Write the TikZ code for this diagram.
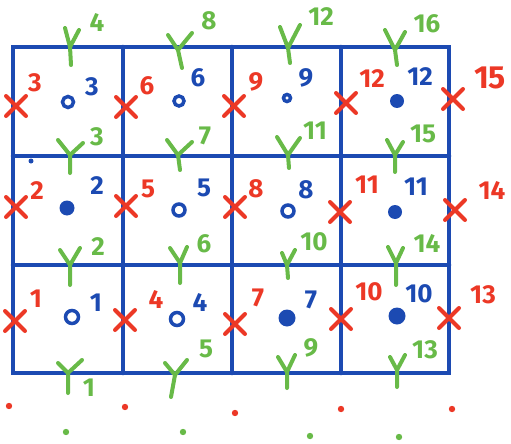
\documentclass[tikz,border=0pt]{standalone}
\usepackage{fontspec}
\setmainfont{Fira Sans}
\definecolor{gridblue}{RGB}{28,74,178}
\definecolor{markred}{RGB}{236,56,38}
\definecolor{markgreen}{RGB}{104,186,72}
\begin{document}
\begin{tikzpicture}[x=1pt,y=-1pt,
  gridline/.style={line width=4.5pt,draw=gridblue,line cap=round},
  xmark/.style={line width=4pt,draw=markred,line cap=round},
  ymark/.style={line width=4pt,draw=markgreen,line cap=round,line join=round},
  numtext/.style={inner sep=0pt,font=\fontsize{26}{26}\selectfont\bfseries},
  rednum/.style={numtext,text=markred},
  greennum/.style={numtext,text=markgreen},
  bluenum/.style={numtext,text=gridblue}]
\useasboundingbox (0,0) rectangle (511,444);

% Grid of cells
\draw[gridline] (13,47) rectangle (449,373);
\foreach \gx in {123,232,341}
  \draw[gridline] (\gx,47) -- (\gx,373);
\foreach \gy in {156,265}
  \draw[gridline] (13,\gy) -- (449,\gy);

% Red crosses on the vertical edges
\foreach \cx/\cy/\nx/\ny/\t in {16/106/35/83/3, 16/207/37/191/2, 15/321/36/299/1,
    126/107/147/86/6, 126/206/148/189/5, 125/320/156/299/4,
    234/106/256/82/9, 235/207/256/189/8, 235/324/258/298/7,
    346/103/372/79/12, 340/212/367/185/11, 341/319/369/292/10,
    455/210/492/190/14, 449/318/483/295/13}
{
  \draw[xmark] (\cx,\cy) ++(-10,-10) -- ++(20,20) ++(0,-20) -- ++(-20,20);
  \node[rednum] (x\t) at (\nx,\ny) {\t};
}
\draw[xmark] (453,99) ++(-10,-10) -- ++(20,20) ++(0,-20) -- ++(-20,20);
\node[rednum,font=\fontsize{32}{32}\selectfont\bfseries] (x15) at (490,78) {15};

% Green Y marks on the horizontal edges
\foreach \lx/\ly/\rx/\ry/\jx/\jy/\sx/\sy/\nx/\ny/\t in {
    65/28/79/30/70/47/71/65/97/22/4, 58/140/83/143/70/155/70/173/97/137/3,
    60/250/80/248/70/265/70/285/98/247/2, 58/363/82/360/68/373/68/393/89/388/1,
    168/35/192/33/178/50/182/68/209/21/8, 167/140/192/142/178/155/180/170/205/136/7,
    170/248/187/247/180/263/180/283/204/244/6, 165/363/187/360/175/375/171/397/206/349/5,
    280/27/300/25/288/48/290/63/321/17/12, 277/137/300/138/288/155/289/168/315/131/11,
    282/253/295/250/287/265/288/278/314/242/10, 278/357/295/355/287/372/287/388/311/348/9,
    385/30/405/32/395/50/397/65/427/24/16, 387/140/403/142/395/155/395/172/423/134/15,
    388/247/403/248/396/263/396/285/427/243/14, 390/357/405/355/397/370/397/387/425/350/13}
{
  \draw[ymark] (\lx,\ly) -- (\jx,\jy) (\rx,\ry) -- (\jx,\jy) -- (\sx,\sy);
  \node[greennum] (y\t) at (\nx,\ny) {\t};
}

% Blue open circles in the cells
\foreach \cx/\cy/\r/\nx/\ny/\t in {68/102/5.5/92/87/3, 72/317/6.5/96/303/1,
    179/101/5/198/78/6, 179/210/6/204/188/5, 177/319/6.5/200/302/4,
    287/98/3.5/306/78/9, 288/211/6/306/190/8}
{
  \draw[gridblue,line width=3.5pt] (\cx,\cy) circle (\r);
  \node[bluenum] (c\t) at (\nx,\ny) {\t};
}

% Blue filled dots in the cells
\foreach \cx/\cy/\r/\nx/\ny/\t in {67/208/7.5/97/186/2, 287/318/8.5/311/300/7,
    397/101/7/420/77/12, 395/212/7/416/187/11, 397/316/8.5/419/294/10}
{
  \fill[gridblue] (\cx,\cy) circle (\r);
  \node[bluenum] (c\t) at (\nx,\ny) {\t};
}
\fill[gridblue] (31,161) circle (2.5);

% Dots below the grid
\foreach \dx/\dy in {9/406, 125/407, 235/413, 341/409, 452/409}
  \fill[markred] (\dx,\dy) circle (3.2);
\foreach \dx/\dy in {66/432, 183/432, 310/436, 399/437}
  \fill[markgreen] (\dx,\dy) circle (3.2);
\end{tikzpicture}
\end{document}
